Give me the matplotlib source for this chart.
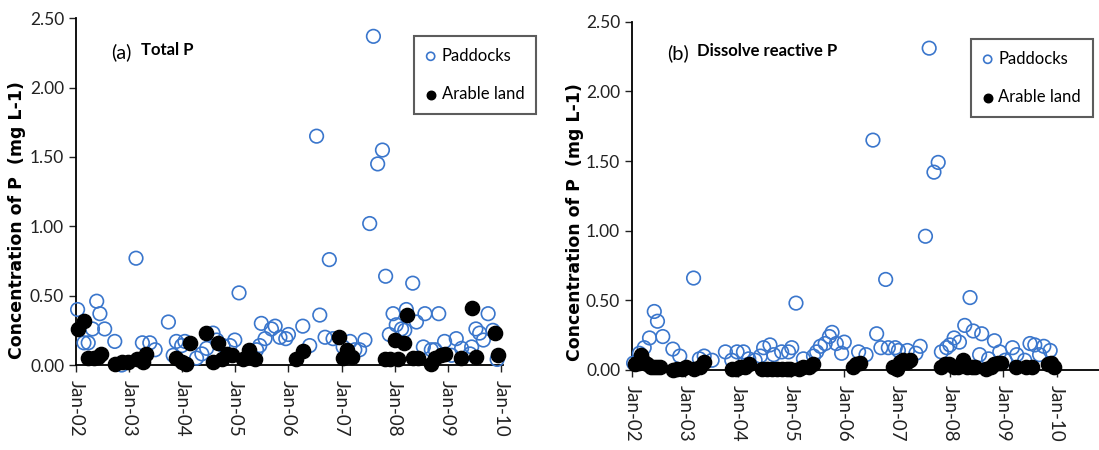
#!/usr/bin/env python3

import matplotlib
matplotlib.use("Agg")
import matplotlib.pyplot as plt

#-------------------------------------------------------------
# data (decimal year, concentration in mg/L)

# (a) Total P
tp_paddocks_t = [2002.03, 2002.39, 2002.45, 2002.31, 2002.54, 2002.15, 2002.23, 2002.73,
                 2002.86, 2003.13, 2003.25, 2003.39, 2003.49, 2003.74, 2003.83, 2003.89,
                 2003.99, 2004.05, 2004.27, 2004.37, 2004.46, 2004.58, 2004.65, 2004.77,
                 2004.90, 2004.99, 2005.07, 2005.40, 2005.46, 2005.49, 2005.56, 2005.68,
                 2005.75, 2005.84, 2005.95, 2006.00, 2006.27, 2006.40, 2006.53, 2006.59,
                 2006.69, 2006.77, 2006.84, 2007.03, 2007.16, 2007.25, 2007.34, 2007.44,
                 2007.53, 2007.60, 2007.68, 2007.77, 2007.83, 2007.90, 2007.97, 2008.03,
                 2008.13, 2008.19, 2008.22, 2008.34, 2008.41, 2008.54, 2008.57, 2008.69,
                 2008.76, 2008.83, 2008.94, 2009.07, 2009.16, 2009.26, 2009.42, 2009.45,
                 2009.53, 2009.60, 2009.67, 2009.76, 2009.85, 2009.93]
tp_paddocks_c = [0.40, 0.46, 0.37, 0.26, 0.26, 0.16, 0.16, 0.17,
                 0.00, 0.77, 0.16, 0.16, 0.11, 0.31, 0.07, 0.17,
                 0.14, 0.17, 0.05, 0.08, 0.12, 0.23, 0.18, 0.14,
                 0.14, 0.18, 0.52, 0.11, 0.14, 0.30, 0.19, 0.26,
                 0.28, 0.20, 0.19, 0.22, 0.28, 0.14, 1.65, 0.36,
                 0.20, 0.76, 0.19, 0.13, 0.17, 0.11, 0.11, 0.18,
                 1.02, 2.37, 1.45, 1.55, 0.64, 0.22, 0.37, 0.29,
                 0.26, 0.25, 0.40, 0.59, 0.31, 0.13, 0.37, 0.11,
                 0.11, 0.37, 0.17, 0.07, 0.19, 0.12, 0.08, 0.13,
                 0.26, 0.23, 0.18, 0.37, 0.25, 0.04]

tp_arable_t = [2002.04, 2002.15, 2002.23, 2002.33, 2002.42, 2002.48, 2002.73, 2002.86,
               2002.98, 2003.14, 2003.27, 2003.32, 2003.89, 2003.99, 2004.08, 2004.15,
               2004.45, 2004.58, 2004.68, 2004.74, 2004.84, 2004.93, 2005.15, 2005.26,
               2005.37, 2006.14, 2006.27, 2006.96, 2007.02, 2007.10, 2007.19, 2007.82,
               2007.91, 2008.00, 2008.06, 2008.18, 2008.24, 2008.35, 2008.44, 2008.69,
               2008.76, 2008.87, 2008.94, 2009.25, 2009.45, 2009.54, 2009.89, 2009.95]
tp_arable_c = [0.26, 0.32, 0.05, 0.05, 0.06, 0.08, 0.01, 0.02,
               0.02, 0.04, 0.02, 0.08, 0.05, 0.02, 0.01, 0.16,
               0.23, 0.02, 0.16, 0.04, 0.08, 0.07, 0.04, 0.11,
               0.04, 0.04, 0.10, 0.20, 0.05, 0.11, 0.06, 0.04,
               0.04, 0.18, 0.04, 0.16, 0.36, 0.05, 0.05, 0.01,
               0.05, 0.07, 0.08, 0.05, 0.41, 0.06, 0.23, 0.07]

# (b) Dissolve reactive P
drp_paddocks_t = [2002.03, 2002.14, 2002.23, 2002.33, 2002.42, 2002.48, 2002.58, 2002.77,
                  2002.90, 2003.16, 2003.27, 2003.36, 2003.51, 2003.76, 2003.88, 2003.98,
                  2004.10, 2004.20, 2004.32, 2004.42, 2004.48, 2004.60, 2004.67, 2004.82,
                  2004.95, 2005.01, 2005.09, 2005.23, 2005.42, 2005.48, 2005.55, 2005.64,
                  2005.72, 2005.77, 2005.85, 2005.95, 2006.00, 2006.27, 2006.41, 2006.54,
                  2006.61, 2006.69, 2006.78, 2006.83, 2006.96, 2007.02, 2007.19, 2007.35,
                  2007.43, 2007.53, 2007.60, 2007.69, 2007.77, 2007.83, 2007.93, 2007.99,
                  2008.07, 2008.17, 2008.27, 2008.37, 2008.43, 2008.55, 2008.59, 2008.72,
                  2008.83, 2008.93, 2009.03, 2009.17, 2009.25, 2009.40, 2009.50, 2009.59,
                  2009.68, 2009.76, 2009.88]
drp_paddocks_c = [0.05, 0.12, 0.16, 0.23, 0.42, 0.35, 0.24, 0.15,
                  0.10, 0.66, 0.08, 0.10, 0.07, 0.13, 0.07, 0.13,
                  0.13, 0.08, 0.07, 0.10, 0.16, 0.18, 0.11, 0.13,
                  0.13, 0.16, 0.48, 0.08, 0.10, 0.13, 0.17, 0.19,
                  0.24, 0.27, 0.19, 0.12, 0.20, 0.13, 0.11, 1.65,
                  0.26, 0.16, 0.65, 0.16, 0.16, 0.14, 0.14, 0.12,
                  0.17, 0.96, 2.31, 1.42, 1.49, 0.13, 0.16, 0.18,
                  0.23, 0.20, 0.32, 0.52, 0.28, 0.11, 0.26, 0.08,
                  0.21, 0.13, 0.07, 0.16, 0.11, 0.07, 0.19, 0.18,
                  0.11, 0.17, 0.14]

drp_arable_t = [2002.06, 2002.13, 2002.17, 2002.22, 2002.28, 2002.35, 2002.41, 2002.48,
                2002.53, 2002.77, 2002.85, 2002.94, 2003.02, 2003.17, 2003.29, 2003.35,
                2003.88, 2003.96, 2004.04, 2004.13, 2004.21, 2004.45, 2004.54, 2004.63,
                2004.73, 2004.82, 2004.92, 2004.98, 2005.14, 2005.23, 2005.33, 2005.42,
                2006.16, 2006.23, 2006.30, 2006.92, 2006.99, 2007.05, 2007.11, 2007.18,
                2007.23, 2007.82, 2007.90, 2007.98, 2008.07, 2008.15, 2008.24, 2008.31,
                2008.40, 2008.46, 2008.68, 2008.76, 2008.83, 2008.90, 2008.96, 2009.23,
                2009.43, 2009.53, 2009.84, 2009.90, 2009.95]
drp_arable_c = [0.04, 0.05, 0.11, 0.06, 0.04, 0.02, 0.02, 0.02,
                0.02, 0.00, 0.01, 0.01, 0.02, 0.01, 0.02, 0.06,
                0.01, 0.01, 0.02, 0.02, 0.04, 0.01, 0.01, 0.01,
                0.01, 0.01, 0.01, 0.01, 0.01, 0.02, 0.02, 0.04,
                0.02, 0.04, 0.05, 0.02, 0.01, 0.06, 0.07, 0.06,
                0.07, 0.02, 0.04, 0.04, 0.02, 0.02, 0.07, 0.02,
                0.02, 0.02, 0.01, 0.02, 0.04, 0.05, 0.05, 0.02,
                0.02, 0.02, 0.04, 0.05, 0.02]

year_ticks = [2002, 2003, 2004, 2005, 2006, 2007, 2008, 2009, 2010]
year_labels = ["Jan-02", "Jan-03", "Jan-04", "Jan-05", "Jan-06",
               "Jan-07", "Jan-08", "Jan-09", "Jan-10"]
conc_ticks = [0.0, 0.5, 1.0, 1.5, 2.0, 2.5]

BLUE = "#3a76cc"
NARROW = ["Lato", "DejaVu Sans"]

#-------------------------------------------------------------
def drawPanel(fig, rect, xmax, pad_t, pad_c, ara_t, ara_c, tag, title,
              title_xy, leg_xy, label_xy):

    ax = fig.add_axes(rect)
    ax.scatter(pad_t, pad_c, s=95, facecolors="none", edgecolors=BLUE,
               linewidths=1.2, clip_on=False, zorder=3, label="Paddocks")
    ax.scatter(ara_t, ara_c, s=105, color="black", clip_on=False,
               zorder=4, label="Arable land")

    ax.set_xlim(2002, xmax)
    ax.set_ylim(0, 2.5)
    ax.set_xticks(year_ticks)
    ax.set_xticklabels(year_labels, rotation=-90, family=NARROW, fontsize=13.5)
    ax.set_yticks(conc_ticks)
    ax.set_yticklabels(["{:.2f}".format(v) for v in conc_ticks], family=NARROW, fontsize=12.5)
    ax.tick_params(direction="out", length=5, width=1, colors="#222222")
    ax.tick_params(axis="x", pad=6)
    for side in ("top", "right"):
        ax.spines[side].set_visible(False)
    for side in ("left", "bottom"):
        ax.spines[side].set_linewidth(1.3)

    ax.set_ylabel("Concentration of P  (mg L-1)", fontsize=12.5, fontweight="bold")
    ax.yaxis.set_label_coords(label_xy[0], label_xy[1])

    # panel title
    fig.text(title_xy[0], title_xy[1], tag, family=NARROW, fontsize=14.5, va="center")
    fig.text(title_xy[0] + 30 / 1099, title_xy[1] + 0.004, title, family=NARROW,
             fontsize=12, fontweight="bold", va="center")

    leg = ax.legend(loc="upper left", bbox_to_anchor=leg_xy, bbox_transform=fig.transFigure,
                    borderaxespad=0, frameon=True, fancybox=False, edgecolor="#333333",
                    prop={"family": NARROW, "size": 12}, markerscale=0.6,
                    handlelength=0.6, handletextpad=0.35, labelspacing=1.35,
                    borderpad=0.7)
    leg.get_frame().set_linewidth(1.5)
    return ax

#-------------------------------------------------------------
def main():

    fig = plt.figure(figsize=(10.99, 4.5), dpi=100)

    drawPanel(fig, [76 / 1099, 85 / 450, 427 / 1099, 346.7 / 450], 2010.04,
              tp_paddocks_t, tp_paddocks_c, tp_arable_t, tp_arable_c,
              "(a)", "Total P", (111 / 1099, 1 - 52 / 450), (414 / 1099, 1 - 36 / 450),
              (-0.117, 0.418))
    drawPanel(fig, [632 / 1099, 80 / 450, 467 / 1099, 348.3 / 450], 2010.80,
              drp_paddocks_t, drp_paddocks_c, drp_arable_t, drp_arable_c,
              "(b)", "Dissolve reactive P", (667 / 1099, 1 - 53 / 450), (971 / 1099, 1 - 39 / 450),
              (-0.103, 0.425))

    fig.savefig("out.png", dpi=100)
    plt.close(fig)

#-------------------------------------------------------------
if __name__ == "__main__":
    main()
